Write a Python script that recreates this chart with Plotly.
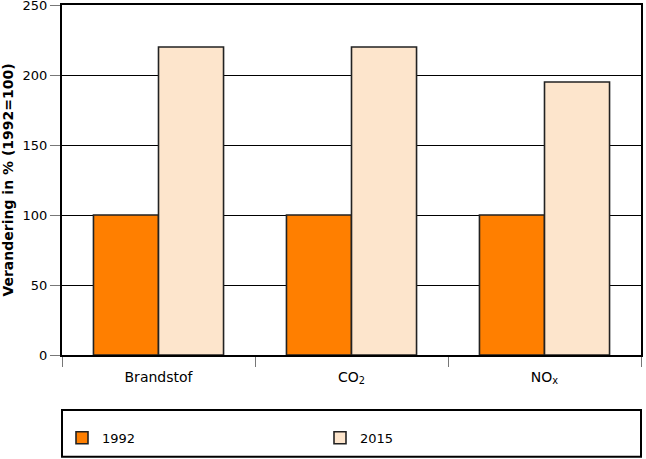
import plotly.graph_objects as go

categories = ["Brandstof", "CO<sub>2</sub>", "NO<sub>x</sub>"]
values_1992 = [100, 100, 100]
values_2015 = [220, 220, 195]
series_names = ["1992", "2015"]
colors = ["#FF7F00", "#FDE5CC"]
y_ticks = [0, 50, 100, 150, 200, 250]

fig = go.Figure()
for name, vals, col in zip(series_names, [values_1992, values_2015], colors):
    fig.add_trace(go.Bar(
        x=categories, y=vals, name=name,
        marker=dict(color=col, line=dict(color="#222222", width=1.6)),
    ))

fig.update_layout(
    width=646, height=459,
    margin=dict(l=62, r=5, t=5, b=104),
    paper_bgcolor="white", plot_bgcolor="white",
    barmode="group", bargap=0.326, bargroupgap=0,
    font=dict(family="DejaVu Sans", size=13, color="black"),
    showlegend=True,
    legend=dict(
        orientation="h", x=0.0, xanchor="left", y=-0.2364, yanchor="middle",
        entrywidth=213, entrywidthmode="pixels",
        font=dict(family="DejaVu Sans", size=13),
        bgcolor="rgba(0,0,0,0)", borderwidth=0,
    ),
    shapes=[dict(
        type="rect", xref="paper", yref="paper",
        x0=0, x1=1, y0=-0.291, y1=-0.157,
        line=dict(color="black", width=2), fillcolor="rgba(0,0,0,0)",
    )],
)

fig.update_xaxes(
    type="category",
    showline=True, linecolor="black", linewidth=1.5, mirror=True,
    ticks="outside", tickson="boundaries", ticklen=10, tickcolor="#777777", tickwidth=1,
    tickfont=dict(family="DejaVu Sans", size=14),
    ticklabelstandoff=8,
    showgrid=False, automargin=False,
)
fig.update_yaxes(
    range=[0, 250], tickvals=y_ticks,
    showline=True, linecolor="black", linewidth=2, mirror=True,
    ticks="outside", ticklen=10, tickcolor="#777777", tickwidth=1,
    ticklabeloverflow="allow",
    showgrid=True, gridcolor="black", gridwidth=1,
    zeroline=False, automargin=False,
    tickfont=dict(family="DejaVu Sans", size=13),
    title=dict(text="<b>Verandering in % (1992=100)</b>",
               font=dict(family="DejaVu Sans", size=14), standoff=6),
)

fig.write_html("out.html")
